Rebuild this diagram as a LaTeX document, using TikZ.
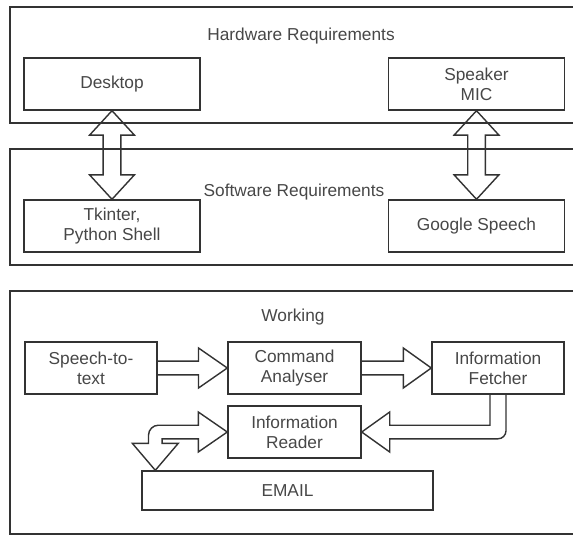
\documentclass[tikz,border=0pt]{standalone}
\usepackage{fontspec}
\setmainfont{Liberation Sans}
\usepackage{tikz}
\usetikzlibrary{calc}

\begin{document}
\begin{tikzpicture}[line width=1pt, black!80,
box/.style={draw, rectangle, align=center, inner sep=0pt,
  minimum width=4.4cm, minimum height=1.3cm,
  text=black!72, font=\fontsize{12.3}{14.2}\selectfont},
lbl/.style={text=black!72, font=\fontsize{12.3}{14.2}\selectfont},
blk/.style={draw, line join=miter}]
\useasboundingbox (0,0) rectangle (14.325,-13.375);
\clip (0,0) rectangle (14.325,-13.375);

\draw (0.25,-0.175) rectangle (14.6,-3.075);
\draw (0.25,-3.725) rectangle (14.6,-6.625);
\draw (0.25,-7.275) rectangle (14.6,-13.35);

\node (hw) at (7.525,-0.91) [lbl] {Hardware Requirements};
\node (sw) at (7.35,-4.8) [lbl] {Software Requirements};
\node (wk) at (7.325,-7.925) [lbl] {Working};

\node (desk) at (2.8,-2.1) [box] {Desktop};
\node (spk) at (11.9125,-2.1) [box] {Speaker\\MIC};
\node (tk) at (2.8,-5.65) [box] {Tkinter,\\Python Shell};
\node (goog) at (11.9125,-5.65) [box] {Google Speech};

\node (stt) at (2.275,-9.2) [box, minimum width=3.3cm] {Speech-to-\\text};
\node (cmd) at (7.3625,-9.2) [box, minimum width=3.325cm] {Command\\Analyser};
\node (fetch) at (12.45,-9.2) [box, minimum width=3.3cm] {Information\\Fetcher};
\node (read) at (7.3625,-10.8) [box, minimum width=3.325cm] {Information\\Reader};
\node (mail) at (7.1875,-12.2625) [box, minimum width=7.275cm, minimum height=0.975cm] {EMAIL};

\draw[blk] let \p1=(desk.south), \p2=(tk.north) in
  (\p1) -- (\x1-0.56cm,\y1-0.61cm) -- (\x1-0.22cm,\y1-0.61cm)
  -- (\x1-0.22cm,\y2+0.61cm) -- (\x1-0.56cm,\y2+0.61cm) -- (\p2)
  -- (\x1+0.56cm,\y2+0.61cm) -- (\x1+0.22cm,\y2+0.61cm)
  -- (\x1+0.22cm,\y1-0.61cm) -- (\x1+0.56cm,\y1-0.61cm) -- cycle;
\draw[blk] let \p1=(spk.south), \p2=(goog.north) in
  (\p1) -- (\x1-0.56cm,\y1-0.61cm) -- (\x1-0.22cm,\y1-0.61cm)
  -- (\x1-0.22cm,\y2+0.61cm) -- (\x1-0.56cm,\y2+0.61cm) -- (\p2)
  -- (\x1+0.56cm,\y2+0.61cm) -- (\x1+0.22cm,\y2+0.61cm)
  -- (\x1+0.22cm,\y1-0.61cm) -- (\x1+0.56cm,\y1-0.61cm) -- cycle;

\draw[blk] let \p1=(stt.east), \p2=(cmd.west) in
  (\x1,\y1+0.17cm) -- (\x2-0.72cm,\y1+0.17cm) -- (\x2-0.72cm,\y1+0.5cm)
  -- (\p2) -- (\x2-0.72cm,\y1-0.5cm) -- (\x2-0.72cm,\y1-0.17cm) -- (\x1,\y1-0.17cm);
\draw[blk] let \p1=(cmd.east), \p2=(fetch.west) in
  (\x1,\y1+0.17cm) -- (\x2-0.7cm,\y1+0.17cm) -- (\x2-0.7cm,\y1+0.5cm)
  -- (\p2) -- (\x2-0.7cm,\y1-0.5cm) -- (\x2-0.7cm,\y1-0.17cm) -- (\x1,\y1-0.17cm);

\draw[blk] let \p1=(fetch.south), \p2=(read.east) in
  (\x1-0.2cm,\y1) -- (\x1-0.2cm,\y2+0.17cm) -- (\x2+0.7cm,\y2+0.17cm)
  -- (\x2+0.7cm,\y2+0.5cm) -- (\p2) -- (\x2+0.7cm,\y2-0.5cm)
  -- (\x2+0.7cm,\y2-0.17cm) -- (\x1,\y2-0.17cm)
  arc[start angle=270, end angle=360, radius=0.2cm] -- (\x1+0.2cm,\y1);

\draw[blk] let \p1=(read.west), \p2=($(mail.north west)+(0.35,0)$) in
  (\p1) -- (\x1-0.725cm,\y1+0.5cm) -- (\x1-0.725cm,\y1+0.17cm)
  -- (\x2+0.08cm,\y1+0.17cm)
  arc[start angle=90, end angle=180, radius=0.25cm]
  -- (\x2-0.17cm,\y2+0.675cm) -- (\x2-0.575cm,\y2+0.675cm) -- (\p2)
  -- (\x2+0.575cm,\y2+0.675cm) -- (\x2+0.17cm,\y2+0.675cm)
  -- (\x2+0.17cm,\y1-0.17cm) -- (\x1-0.725cm,\y1-0.17cm)
  -- (\x1-0.725cm,\y1-0.5cm) -- cycle;

\end{tikzpicture}
\end{document}
